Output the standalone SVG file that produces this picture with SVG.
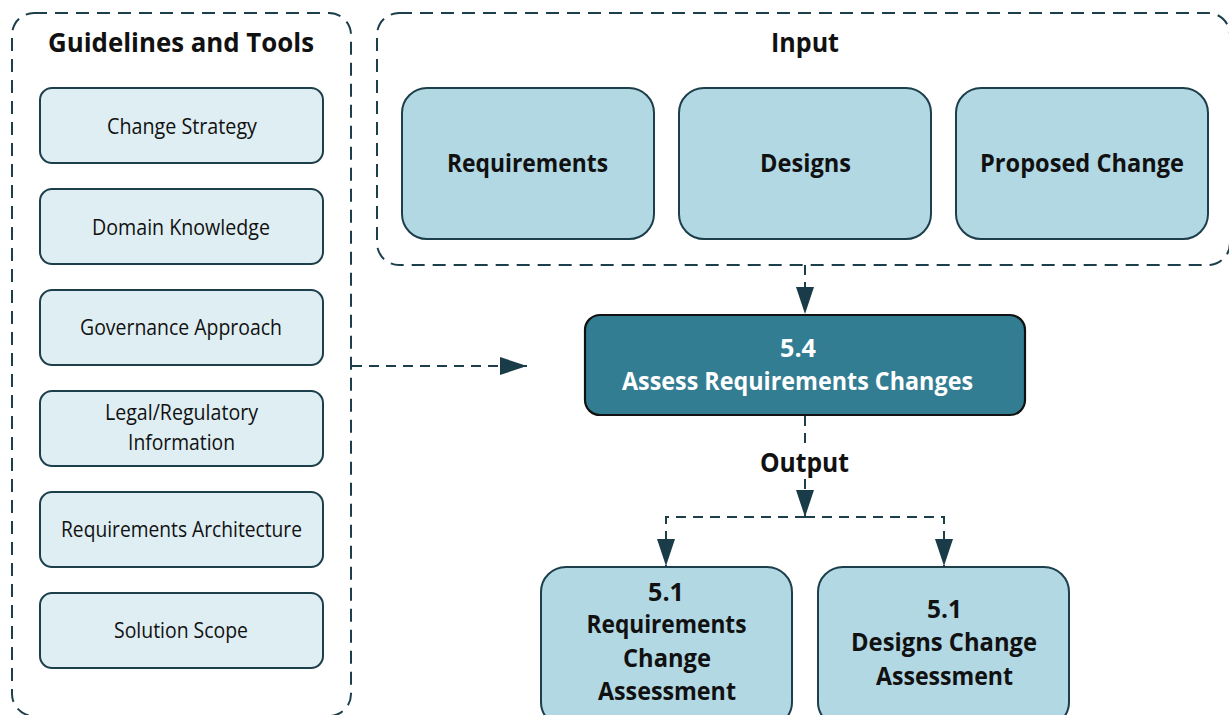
<svg xmlns="http://www.w3.org/2000/svg" width="1229" height="715" viewBox="0 0 1229 715">
<defs>
<style>
.container{fill:none;stroke:#1c3f4b;stroke-width:2;stroke-dasharray:13 8}
.tool{fill:#deeef3;stroke:#1c3f4b;stroke-width:2}
.inp{fill:#b2d8e4;stroke:#1c3f4b;stroke-width:2}
.main{fill:#337d93;stroke:#111;stroke-width:2.2}
.conn{fill:none;stroke:#1c3f4b;stroke-width:2;stroke-dasharray:10 7}
text{font-family:"Open Sans","Noto Sans","Liberation Sans",sans-serif;text-anchor:middle;fill:#111}
.title{font-size:27px;font-weight:700}
.tl{font-size:22px;font-weight:400}
.bl{font-size:25px;font-weight:700}
.wl{font-size:25px;font-weight:700;fill:#fff}
</style>
<marker id="arr" markerUnits="userSpaceOnUse" viewBox="0 0 27 18" refX="27" refY="9" markerWidth="27" markerHeight="18" orient="auto">
<path d="M0,0 L27,9 L0,18 z" fill="#1a3c48"/>
</marker>
</defs>
<rect width="1229" height="715" fill="#fff"/>

<g id="guidelines-container">
<rect class="container" x="12" y="13" width="339" height="703" rx="22"/>
<text class="title" x="181" y="52" textLength="266" lengthAdjust="spacingAndGlyphs">Guidelines and Tools</text>
</g>
<g id="input-container">
<rect class="container" x="377" y="13" width="853" height="252" rx="22"/>
<text class="title" x="805" y="52" textLength="68" lengthAdjust="spacingAndGlyphs">Input</text>
</g>

<g id="change-strategy">
<rect class="tool" x="40" y="88" width="283" height="75" rx="12"/>
<text class="tl" x="182" y="134" textLength="150" lengthAdjust="spacingAndGlyphs">Change Strategy</text>
</g>
<g id="domain-knowledge">
<rect class="tool" x="40" y="189" width="283" height="75" rx="12"/>
<text class="tl" x="181" y="235" textLength="178" lengthAdjust="spacingAndGlyphs">Domain Knowledge</text>
</g>
<g id="governance-approach">
<rect class="tool" x="40" y="290" width="283" height="75" rx="12"/>
<text class="tl" x="181" y="335" textLength="202" lengthAdjust="spacingAndGlyphs">Governance Approach</text>
</g>
<g id="legal-regulatory">
<rect class="tool" x="40" y="391" width="283" height="75" rx="12"/>
<text class="tl" x="181.5" y="420" textLength="153" lengthAdjust="spacingAndGlyphs">Legal/Regulatory</text>
<text class="tl" x="181.5" y="450" textLength="107" lengthAdjust="spacingAndGlyphs">Information</text>
</g>
<g id="requirements-architecture">
<rect class="tool" x="40" y="492" width="283" height="75" rx="12"/>
<text class="tl" x="181.5" y="537" textLength="241" lengthAdjust="spacingAndGlyphs">Requirements Architecture</text>
</g>
<g id="solution-scope">
<rect class="tool" x="40" y="593" width="283" height="75" rx="12"/>
<text class="tl" x="181" y="638" textLength="134" lengthAdjust="spacingAndGlyphs">Solution Scope</text>
</g>

<g id="requirements">
<rect class="inp" x="402" y="88" width="252" height="151" rx="25"/>
<text class="bl" x="527.5" y="172" textLength="161" lengthAdjust="spacingAndGlyphs">Requirements</text>
</g>
<g id="designs">
<rect class="inp" x="679" y="88" width="252" height="151" rx="25"/>
<text class="bl" x="805.5" y="172" textLength="91" lengthAdjust="spacingAndGlyphs">Designs</text>
</g>
<g id="proposed-change">
<rect class="inp" x="956" y="88" width="252" height="151" rx="25"/>
<text class="bl" x="1082" y="172" textLength="204" lengthAdjust="spacingAndGlyphs">Proposed Change</text>
</g>

<g id="assess-requirements-changes">
<rect class="main" x="585" y="315" width="440" height="100" rx="15"/>
<text class="wl" x="798" y="357" textLength="36" lengthAdjust="spacingAndGlyphs">5.4</text>
<text class="wl" x="797.5" y="390" textLength="351" lengthAdjust="spacingAndGlyphs">Assess Requirements Changes</text>
</g>

<g id="output-label">
<text class="title" x="804.5" y="472" textLength="89" lengthAdjust="spacingAndGlyphs">Output</text>
</g>

<g id="requirements-change-assessment">
<rect class="inp" x="541" y="567" width="251" height="160" rx="25"/>
<text class="bl" x="666" y="601" textLength="36" lengthAdjust="spacingAndGlyphs">5.1</text>
<text class="bl" x="666.5" y="633" textLength="160" lengthAdjust="spacingAndGlyphs">Requirements</text>
<text class="bl" x="667" y="667" textLength="88" lengthAdjust="spacingAndGlyphs">Change</text>
<text class="bl" x="667" y="700" textLength="138" lengthAdjust="spacingAndGlyphs">Assessment</text>
</g>
<g id="designs-change-assessment">
<rect class="inp" x="818" y="567" width="251" height="160" rx="25"/>
<text class="bl" x="944.5" y="618" textLength="35" lengthAdjust="spacingAndGlyphs">5.1</text>
<text class="bl" x="944" y="651" textLength="186" lengthAdjust="spacingAndGlyphs">Designs Change</text>
<text class="bl" x="944.5" y="685" textLength="137" lengthAdjust="spacingAndGlyphs">Assessment</text>
</g>

<g id="connectors">
<path class="conn" d="M805,265 V314" marker-end="url(#arr)"/>
<path class="conn" d="M352,366 H527" marker-end="url(#arr)"/>
<path class="conn" d="M805,416 V445"/>
<path class="conn" d="M805,479 V517" marker-end="url(#arr)"/>
<path class="conn" d="M805,517 H666 V566" marker-end="url(#arr)"/>
<path class="conn" d="M805,517 H944 V566" marker-end="url(#arr)"/>
</g>
</svg>
